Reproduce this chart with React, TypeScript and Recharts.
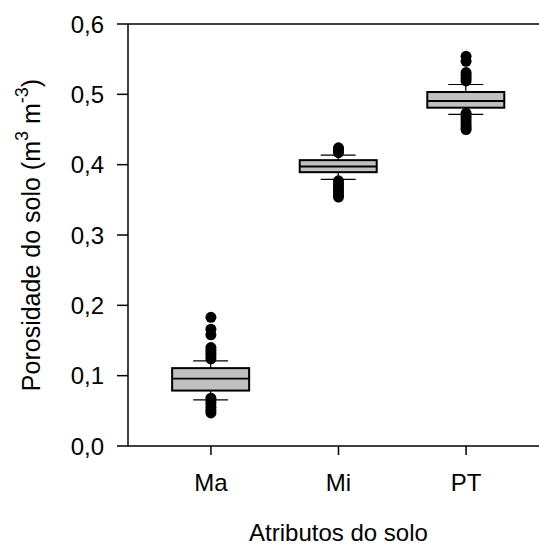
import React from 'react';
import { ComposedChart, Bar, Scatter, XAxis, YAxis, ReferenceLine, Label } from 'recharts';

const categories = ['Ma', 'Mi', 'PT'];
const categoryPos = [1, 2, 3];
const whiskerLow = [0.0655, 0.379, 0.4715];
const q1 = [0.0788, 0.3893, 0.481];
const median = [0.0959, 0.3974, 0.4905];
const q3 = [0.1107, 0.4064, 0.5033];
const whiskerHigh = [0.121, 0.4135, 0.514];

const outliersMa = [0.183, 0.166, 0.158, 0.14, 0.136, 0.132, 0.128, 0.124, 0.068, 0.064, 0.06, 0.055, 0.051, 0.047];
const outliersMi = [0.424, 0.421, 0.417, 0.377, 0.373, 0.369, 0.365, 0.361, 0.357, 0.354];
const outliersPT = [0.554, 0.547, 0.531, 0.527, 0.523, 0.519, 0.473, 0.469, 0.465, 0.461, 0.457, 0.453, 0.45];

const yTicks = [0, 0.1, 0.2, 0.3, 0.4, 0.5, 0.6];

const boxData = categories.map((c, i) => ({
  name: c,
  x: categoryPos[i],
  range: [whiskerLow[i], whiskerHigh[i]],
  lo: whiskerLow[i],
  q1: q1[i],
  med: median[i],
  q3: q3[i],
  hi: whiskerHigh[i],
}));

const outlierData = [
  ...outliersMa.map((v) => ({ x: categoryPos[0], y: v })),
  ...outliersMi.map((v) => ({ x: categoryPos[1], y: v })),
  ...outliersPT.map((v) => ({ x: categoryPos[2], y: v })),
];

const FONT = '"Liberation Sans", Arial, sans-serif';

const BoxShape = (props: any) => {
  const { x, y, width, height, payload } = props;
  if (x == null || y == null) return null;
  const top = Math.min(y, y + height);
  const h = Math.abs(height);
  const { lo, hi } = payload;
  const pix = (v: number) => top + ((hi - v) / (hi - lo)) * h;
  const cx = x + width / 2;
  const capHalf = width * 0.227;
  const yQ1 = pix(payload.q1);
  const yQ3 = pix(payload.q3);
  const yMed = pix(payload.med);
  const yLo = pix(lo);
  const yHi = pix(hi);
  return (
    <g>
      <line x1={cx} x2={cx} y1={yHi} y2={yQ3} stroke="#000" strokeWidth={1.2} />
      <line x1={cx} x2={cx} y1={yQ1} y2={yLo} stroke="#000" strokeWidth={1.2} />
      <line x1={cx - capHalf} x2={cx + capHalf} y1={yHi} y2={yHi} stroke="#000" strokeWidth={1.2} />
      <line x1={cx - capHalf} x2={cx + capHalf} y1={yLo} y2={yLo} stroke="#000" strokeWidth={1.2} />
      <rect x={x} y={yQ3} width={width} height={yQ1 - yQ3} fill="#c0c0c0" stroke="#000" strokeWidth={2} />
      <line x1={x} x2={x + width} y1={yMed} y2={yMed} stroke="#000" strokeWidth={1.8} />
    </g>
  );
};

const Dot = (props: any) => {
  const { cx, cy } = props;
  if (cx == null || cy == null) return null;
  return <circle cx={cx} cy={cy} r={5.5} fill="#000" />;
};

const YLabel = (props: any) => {
  const vb = props.viewBox || {};
  const cx = (vb.x || 0) + 33;
  const cy = (vb.y || 0) + (vb.height || 0) / 2;
  return (
    <text
      x={cx}
      y={cy}
      transform={`rotate(-90, ${cx}, ${cy})`}
      textAnchor="middle"
      dominantBaseline="middle"
      fontFamily={FONT}
      fontSize={25}
      fill="#000"
    >
      <tspan>Porosidade do solo (m</tspan>
      <tspan dy={-10} fontSize={18}>3</tspan>
      <tspan dy={10}> m</tspan>
      <tspan dy={-10} fontSize={18}>-3</tspan>
      <tspan dy={10}>)</tspan>
    </text>
  );
};

export default function App() {
  return (
    <div style={{ position: 'absolute', left: 0, top: 0, width: 539, height: 547, overflow: 'hidden', background: '#fff' }}>
      <ComposedChart
        width={560}
        height={547}
        data={boxData}
        margin={{ top: 24, right: 11, bottom: 0, left: 0 }}
      >
        <XAxis
          type="number"
          dataKey="x"
          domain={[0.35, 3.65]}
          ticks={categoryPos}
          allowDataOverflow
          tickFormatter={(v: number) => categories[v - 1]}
          height={101}
          tickSize={9}
          tickMargin={19}
          stroke="#000"
          strokeWidth={1.5}
          tick={{ fill: '#000', fontSize: 24, fontFamily: FONT }}
        >
          <Label
            value="Atributos do solo"
            position="insideBottom"
            offset={6}
            style={{ fill: '#000', fontSize: 24, fontFamily: FONT }}
          />
        </XAxis>
        <YAxis
          type="number"
          dataKey="y"
          domain={[0, 0.6]}
          ticks={yTicks}
          allowDataOverflow
          width={128}
          tickSize={11}
          tickMargin={13}
          stroke="#000"
          strokeWidth={1.5}
          tickFormatter={(v: number) => v.toFixed(1).replace('.', ',')}
          tick={{ fill: '#000', fontSize: 24, fontFamily: FONT }}
          label={<YLabel />}
        />
        <ReferenceLine y={0.6} stroke="#000" strokeWidth={1.5} />
        <Bar dataKey="range" barSize={77} shape={BoxShape} isAnimationActive={false} />
        <Scatter data={outlierData} shape={Dot} isAnimationActive={false} />
      </ComposedChart>
    </div>
  );
}
